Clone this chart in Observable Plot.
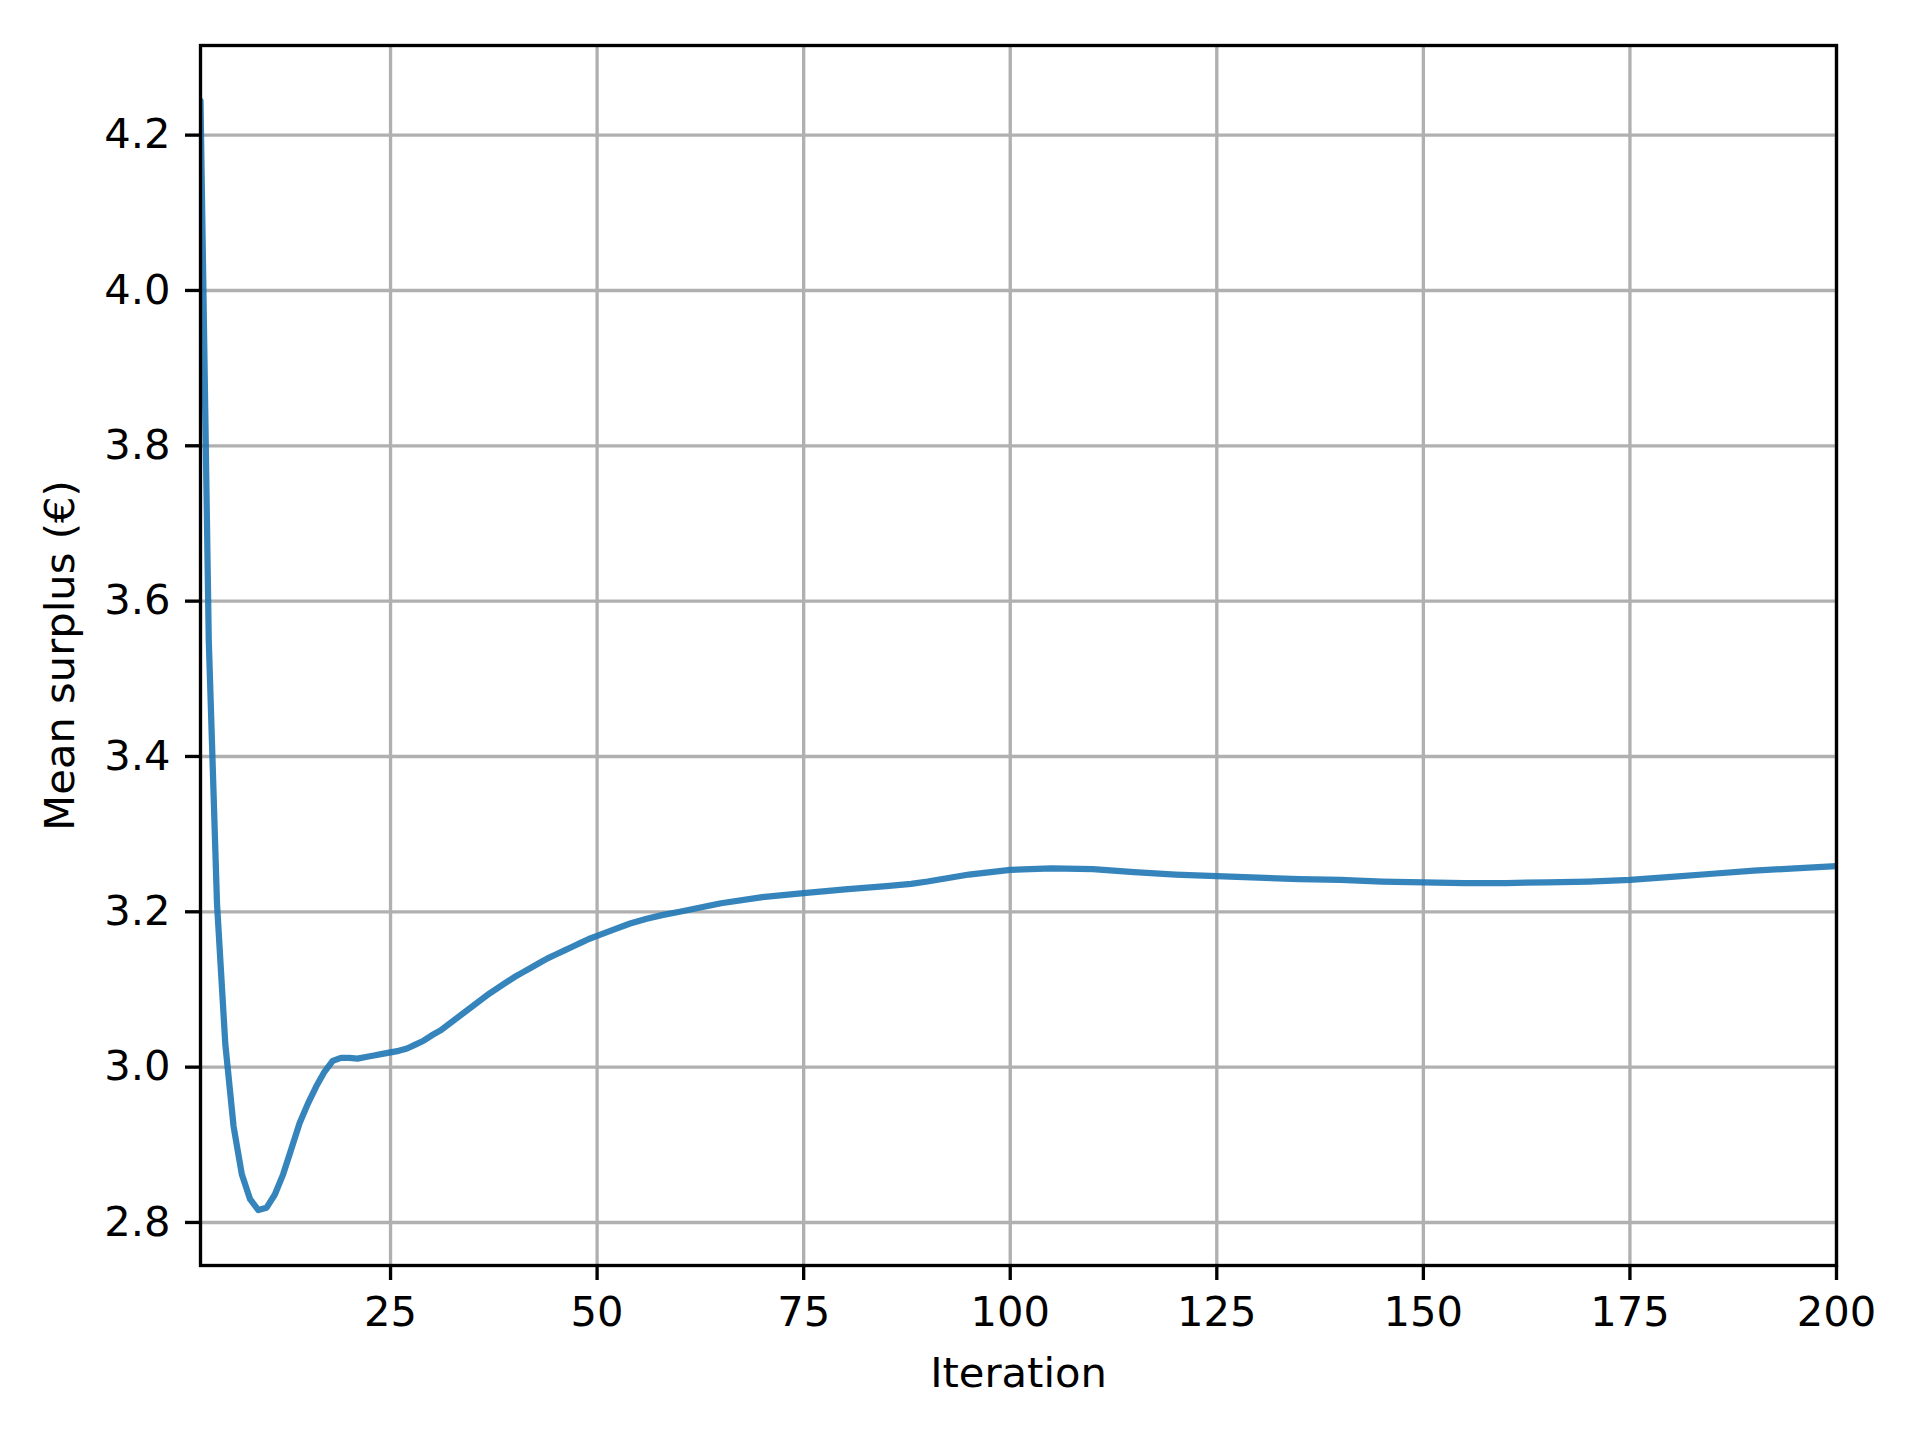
<!DOCTYPE html>
<html>
<head>
<meta charset="utf-8">
<script src="https://cdn.jsdelivr.net/npm/d3@7"></script>
<script src="https://cdn.jsdelivr.net/npm/@observablehq/plot@0.6"></script>
<style>
  html, body { margin: 0; padding: 0; background: #ffffff; }
  #chart svg { display: block; }
</style>
</head>
<body>
<div id="chart"></div>
<script>
// Iteration index and mean surplus values
const iterations = [
  2, 3, 4, 5, 6, 7, 8, 9, 10, 11, 12, 13, 14, 15, 16, 17, 18, 19, 20,
  21, 22, 23, 24, 25, 26, 27, 28, 29, 30, 31, 32, 33, 34, 35, 36, 37, 38, 39, 40,
  41, 42, 43, 44, 45, 46, 47, 48, 49, 50, 52, 54, 56, 58, 60,
  65, 70, 75, 80, 85, 88, 90, 95, 100, 105, 110, 115, 120, 125, 130, 135, 140,
  145, 150, 155, 160, 165, 170, 175, 180, 185, 190, 195, 200
];
const surplus = [
  4.244, 3.55, 3.21, 3.03, 2.924, 2.862, 2.830, 2.816, 2.819, 2.836, 2.862, 2.895, 2.928, 2.953, 2.975, 2.994, 3.008, 3.012, 3.012,
  3.011, 3.013, 3.015, 3.017, 3.019, 3.021, 3.024, 3.029, 3.034, 3.041, 3.047, 3.055, 3.063, 3.071, 3.079, 3.087, 3.095, 3.102, 3.109, 3.116,
  3.122, 3.128, 3.134, 3.140, 3.145, 3.150, 3.155, 3.160, 3.165, 3.169, 3.177, 3.185, 3.191, 3.196, 3.200,
  3.211, 3.219, 3.224, 3.229, 3.233, 3.236, 3.239, 3.248, 3.254, 3.256, 3.255, 3.251, 3.248, 3.246, 3.244, 3.242, 3.241,
  3.239, 3.238, 3.237, 3.237, 3.238, 3.239, 3.241, 3.245, 3.249, 3.253, 3.256, 3.259
];
const xTicks = [25, 50, 75, 100, 125, 150, 175, 200];
const yTicks = [2.8, 3.0, 3.2, 3.4, 3.6, 3.8, 4.0, 4.2];
const xLabel = "Iteration";
const yLabel = "Mean surplus (€)";

const data = iterations.map((it, i) => ({iteration: it, surplus: surplus[i]}));

// matplotlib-like 5% vertical margins
const yMin = d3.min(surplus), yMax = d3.max(surplus);
const pad = (yMax - yMin) * 0.05;

const FS = 41.67;     // 10pt at 300 dpi
const LW = 3.33;      // 0.8pt
const GRID = "#b0b0b0";

const chart = Plot.plot({
  width: 1920,
  height: 1440,
  marginLeft: 200,
  marginRight: 84,
  marginTop: 45,
  marginBottom: 175,
  style: {fontFamily: "DejaVu Sans", fontSize: FS + "px", background: "#ffffff", color: "#000000"},
  x: {type: "linear", domain: [d3.min(iterations), d3.max(iterations)], nice: false},
  y: {type: "linear", domain: [yMin - pad, yMax + pad], nice: false},
  marks: [
    Plot.gridX(xTicks, {stroke: GRID, strokeOpacity: 1, strokeWidth: LW}),
    Plot.gridY(yTicks, {stroke: GRID, strokeOpacity: 1, strokeWidth: LW}),
    Plot.line(data, {
      x: "iteration", y: "surplus",
      stroke: "#1f77b4", strokeOpacity: 0.9, strokeWidth: 6.25,
      clip: true
    }),
    Plot.frame({stroke: "#000000", strokeWidth: LW}),
    Plot.axisX({
      ticks: xTicks, tickSize: 15, tickPadding: 16, strokeWidth: LW,
      fontSize: FS, tickFormat: d => String(d), label: null
    }),
    Plot.axisY({
      ticks: yTicks, tickSize: 15, tickPadding: 15, strokeWidth: LW,
      fontSize: FS, tickFormat: d => d.toFixed(1), label: null
    }),
    Plot.text([xLabel], {
      frameAnchor: "bottom", dy: 121, lineAnchor: "bottom",
      fontSize: FS, fill: "#000000"
    }),
    Plot.text([yLabel], {
      frameAnchor: "left", dx: -156, rotate: -90, lineAnchor: "top",
      textAnchor: "middle", fontSize: FS, fill: "#000000"
    })
  ]
});

document.getElementById("chart").appendChild(chart);
</script>
</body>
</html>
